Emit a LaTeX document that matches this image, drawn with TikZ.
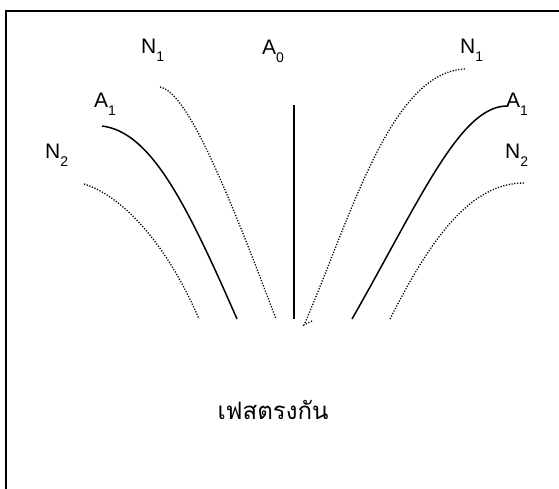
\documentclass[tikz,border=0pt]{standalone}
\usepackage{fontspec}
\setmainfont{Liberation Sans}
\newfontfamily\thaifont[Script=Thai]{Loma}
\begin{document}
\begin{tikzpicture}[x=1pt,y=-1pt,
  solidcurve/.style={line width=1.5pt},
  dotcurve/.style={line width=1.3pt,dash pattern=on 1.2pt off 1.6pt},
  lbl/.style={anchor=base west,inner sep=0pt,font=\fontsize{21}{21}\selectfont},
  frameline/.style={line width=2pt}]
\useasboundingbox (0,0) rectangle (559,488);
% frame (only left and top edges visible)
\coordinate (fbl) at (6,489);
\coordinate (ftl) at (6,11);
\coordinate (ftr) at (560,11);
\draw[frameline] (fbl) -- (ftl) -- (ftr);
% curve end points
\coordinate (ln2s) at (84,184);  \coordinate (ln2e) at (199,319);
\coordinate (la1s) at (102,126); \coordinate (la1e) at (237,319);
\coordinate (ln1s) at (160,87);  \coordinate (ln1e) at (276,319);
\coordinate (a0s) at (294,105);  \coordinate (a0e) at (294,319);
\coordinate (rn1s) at (304,325); \coordinate (rn1e) at (465,69);
\coordinate (rn1h) at (312,321);
\coordinate (ra1s) at (352,319); \coordinate (ra1e) at (507,106);
\coordinate (rn2s) at (390,319); \coordinate (rn2e) at (524,183);
% curves
\draw[dotcurve] (ln2s) .. controls (120,195) and (165,240) .. (ln2e);
\draw[solidcurve] (la1s) .. controls (150,132) and (185,200) .. (la1e);
\draw[dotcurve] (ln1s) .. controls (185,92) and (220,170) .. (ln1e);
\draw[solidcurve] (a0s) -- (a0e);
\draw[dotcurve] (rn1h) -- (rn1s) .. controls (350,220) and (390,72) .. (rn1e);
\draw[solidcurve] (ra1s) .. controls (420,200) and (460,106) .. (ra1e);
\draw[dotcurve] (rn2s) .. controls (430,240) and (470,183) .. (rn2e);
% labels
\newcommand{\mysub}[1]{{\fontsize{14}{14}\selectfont\raisebox{-8pt}{#1}}}
\node[lbl] (tn1l) at (141,53) {N\mysub{1}};
\node[lbl] (ta0) at (262,54) {A\mysub{0}};
\node[lbl] (ta1l) at (94,107) {A\mysub{1}};
\node[lbl] (tn2l) at (45,158) {N\mysub{2}};
\node[lbl] (tn1r) at (460,53) {N\mysub{1}};
\node[lbl] (ta1r) at (506,107) {A\mysub{1}};
\node[lbl] (tn2r) at (505,158) {N\mysub{2}};
\node[inner sep=0pt] (thai) at (273,410) {\thaifont\fontsize{24}{24}\selectfont เฟสตรงกัน};
\end{tikzpicture}
\end{document}
